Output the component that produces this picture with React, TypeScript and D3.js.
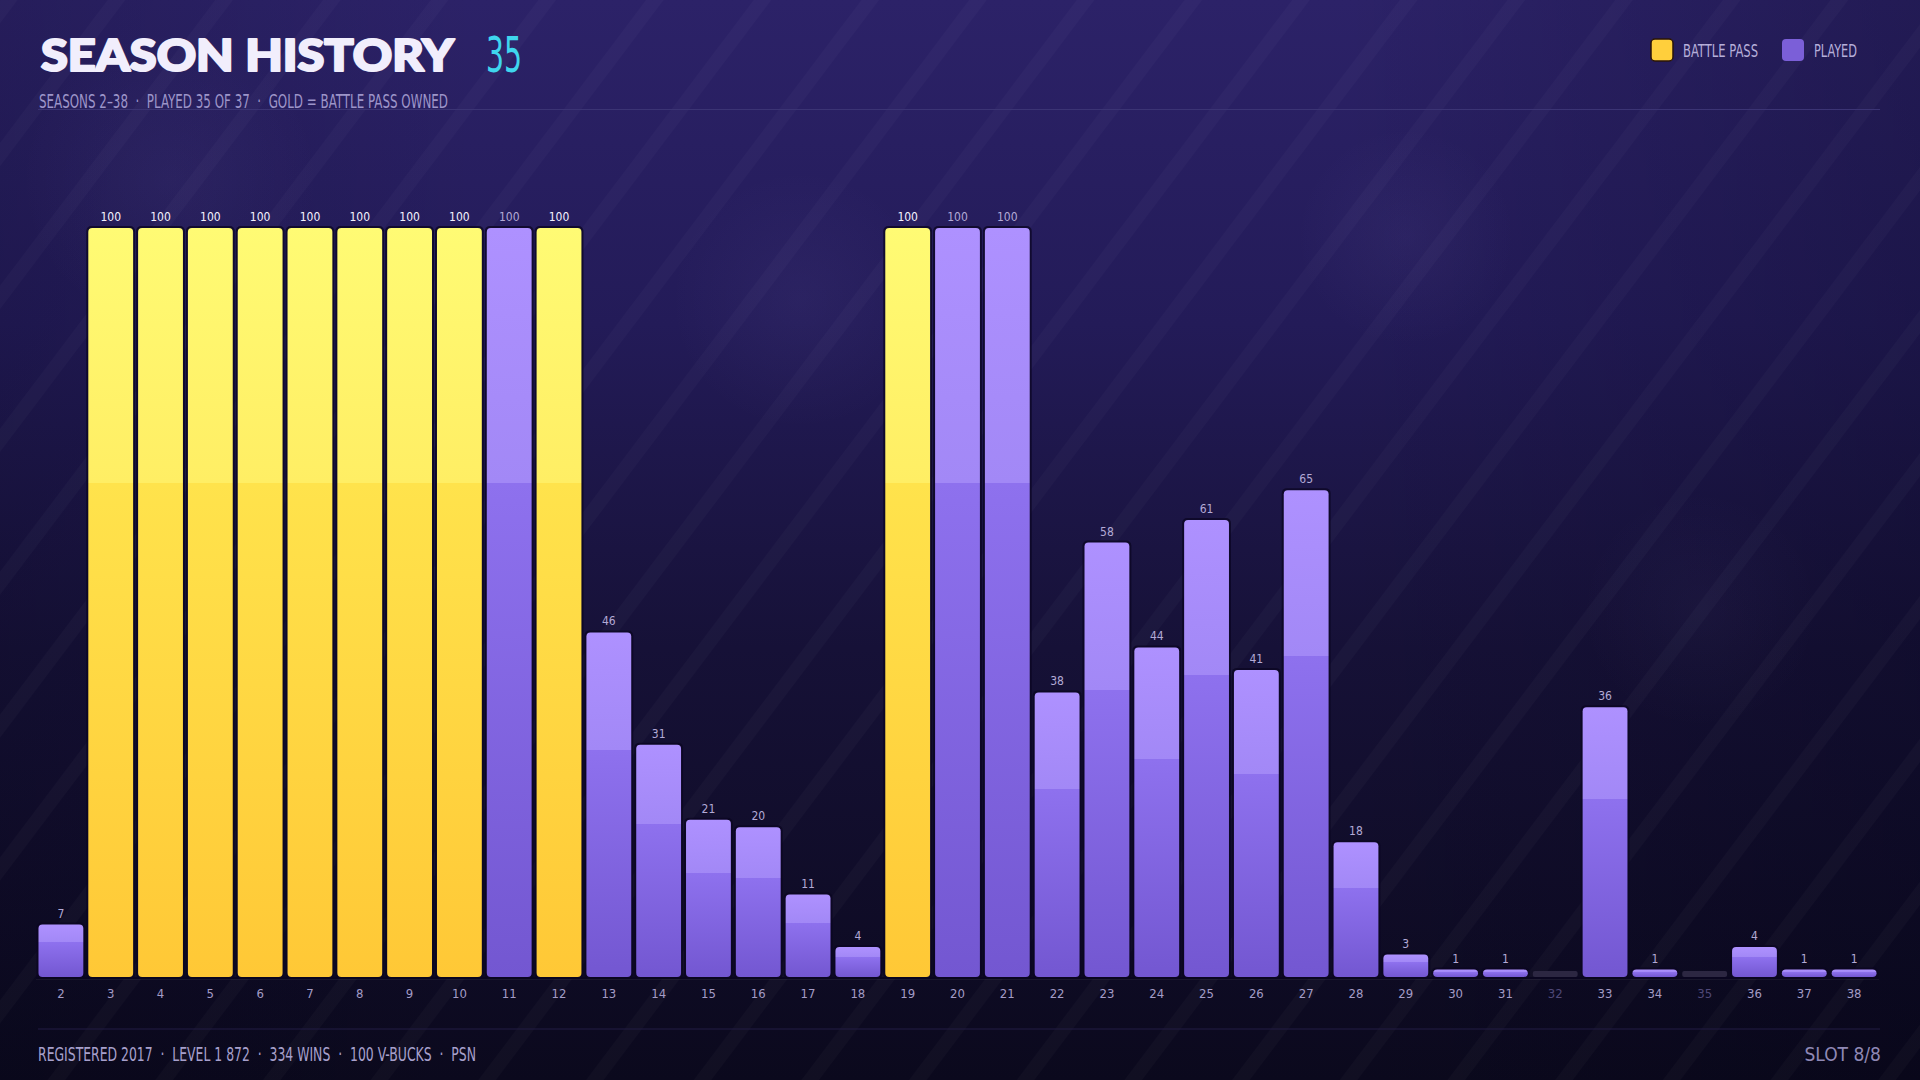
import React, { useEffect } from "react";
import * as d3 from "d3";

// ---- data ----
const seasons: number[] = [2, 3, 4, 5, 6, 7, 8, 9, 10, 11, 12, 13, 14, 15, 16, 17, 18, 19, 20, 21, 22, 23, 24, 25, 26, 27, 28, 29, 30, 31, 32, 33, 34, 35, 36, 37, 38];
const progress: number[] = [7, 100, 100, 100, 100, 100, 100, 100, 100, 100, 100, 46, 31, 21, 20, 11, 4, 100, 100, 100, 38, 58, 44, 61, 41, 65, 18, 3, 1, 1, 0, 36, 1, 0, 4, 1, 1];
const battlePassSeasons: number[] = [3, 4, 5, 6, 7, 8, 9, 10, 12, 19];
const unplayedSeasons: number[] = [32, 35];
const legendItems: string[] = ["BATTLE PASS", "PLAYED"];
const titleText = "SEASON HISTORY";
const titleCount = "35";
const subtitleText = "SEASONS 2–38  ·  PLAYED 35 OF 37  ·  GOLD = BATTLE PASS OWNED";
const footerText = "REGISTERED 2017  ·  LEVEL 1 872  ·  334 WINS  ·  100 V-BUCKS  ·  PSN";
const slotText = "SLOT 8/8";

const W = 1920;
const H = 1080;
const COND = "'Liberation Sans Narrow', 'DejaVu Sans Condensed', 'Roboto', sans-serif";

export default function App() {
  useEffect(() => {
    document.body.style.margin = "0";
    document.body.style.overflow = "hidden";
    document.body.style.background = "#0c0a1f";
  }, []);

  const x = d3
    .scaleBand<number>()
    .domain(seasons)
    .range([36, 1879])
    .paddingInner(0.1)
    .paddingOuter(0.05);
  const y = d3.scaleLinear().domain([0, 100]).range([977, 228]);
  const bw = x.bandwidth();

  const glows = [
    { cx: 170, cy: 180, r: 150, o: 0.05 },
    { cx: 800, cy: 300, r: 130, o: 0.05 },
    { cx: 1406, cy: 237, r: 110, o: 0.05 },
    { cx: 1700, cy: 610, r: 120, o: 0.035 },
  ];

  return (
    <svg width={W} height={H} viewBox={`0 0 ${W} ${H}`} style={{ display: "block" }}>
      <defs>
        <linearGradient id="bg" x1="0" y1="0" x2="0" y2="1">
          <stop offset="0" stopColor="#2c2268" />
          <stop offset="0.3" stopColor="#231b58" />
          <stop offset="0.6" stopColor="#161137" />
          <stop offset="1" stopColor="#0b091d" />
        </linearGradient>
        <linearGradient id="bgSide" x1="0" y1="0" x2="1" y2="0">
          <stop offset="0" stopColor="#000010" stopOpacity="0.15" />
          <stop offset="0.25" stopColor="#000010" stopOpacity="0" />
          <stop offset="0.7" stopColor="#000010" stopOpacity="0" />
          <stop offset="1" stopColor="#000010" stopOpacity="0.22" />
        </linearGradient>
        <pattern id="stripes" width="86" height="86" patternUnits="userSpaceOnUse" patternTransform="rotate(37)">
          <rect x="0" y="0" width="14" height="86" fill="#ffffff" opacity="0.025" />
        </pattern>
        <radialGradient id="glow">
          <stop offset="0" stopColor="#b9a8ff" stopOpacity="1" />
          <stop offset="1" stopColor="#b9a8ff" stopOpacity="0" />
        </radialGradient>
        <linearGradient id="gold" x1="0" y1="0" x2="0" y2="1">
          <stop offset="0" stopColor="#fffb74" />
          <stop offset="0.34" stopColor="#ffee64" />
          <stop offset="0.34" stopColor="#ffe34c" />
          <stop offset="1" stopColor="#ffc836" />
        </linearGradient>
        <linearGradient id="purple" x1="0" y1="0" x2="0" y2="1">
          <stop offset="0" stopColor="#ae91ff" />
          <stop offset="0.34" stopColor="#a288f6" />
          <stop offset="0.34" stopColor="#8e71ee" />
          <stop offset="1" stopColor="#7357d1" />
        </linearGradient>
      </defs>

      {/* background */}
      <rect x={0} y={0} width={W} height={H} fill="url(#bg)" />
      <rect x={0} y={0} width={W} height={H} fill="url(#bgSide)" />
      {glows.map((g, i) => (
        <circle key={i} cx={g.cx} cy={g.cy} r={g.r} fill="url(#glow)" opacity={g.o} />
      ))}
      <rect x={0} y={0} width={W} height={H} fill="url(#stripes)" />

      {/* header */}
      <text
        x={41}
        y={71}
        fontFamily="Lato, 'Open Sans', sans-serif"
        fontWeight={900}
        fontSize={44}
        fill="#f1eefc"
        stroke="#f1eefc"
        strokeWidth={2.2}
        strokeLinejoin="round"
        textLength={413}
        lengthAdjust="spacingAndGlyphs"
      >
        {titleText}
      </text>
      <text
        x={486}
        y={72}
        fontFamily={COND}
        fontSize={50}
        fill="#3fd6ee"
        textLength={36}
        lengthAdjust="spacingAndGlyphs"
      >
        {titleCount}
      </text>
      <line x1={38} x2={1880} y1={109.5} y2={109.5} stroke="#3b3474" strokeWidth={1.2} />
      <text
        x={39}
        y={108}
        fontFamily={COND}
        fontSize={19}
        fill="#9d95c9"
        textLength={409}
        lengthAdjust="spacingAndGlyphs"
        style={{ whiteSpace: "pre" }}
      >
        {subtitleText}
      </text>

      {/* legend */}
      {legendItems.map((label, i) => {
        const lx = i === 0 ? 1651 : 1782;
        const tw = i === 0 ? 75 : 43;
        return (
          <g key={label}>
            <rect
              x={lx}
              y={39}
              width={22}
              height={22}
              rx={4}
              fill={i === 0 ? "#ffcf3c" : "#7b5fd8"}
              stroke={i === 0 ? "#2a1508" : "none"}
              strokeWidth={1.5}
            />
            <text
              x={lx + 32}
              y={57}
              fontFamily={COND}
              fontSize={17}
              fill="#b6afda"
              textLength={tw}
              lengthAdjust="spacingAndGlyphs"
            >
              {label}
            </text>
          </g>
        );
      })}

      {/* bars */}
      <g>
        {seasons.map((s, i) => {
          const v = progress[i];
          const bx = x(s) as number;
          const unplayed = unplayedSeasons.includes(s);
          if (unplayed) {
            const top = y(0.8);
            return (
              <rect key={s} x={bx} y={top} width={bw} height={y(0) - top} rx={2} fill="#2c2742" />
            );
          }
          const top = y(v);
          const h = y(0) - top;
          const gold = battlePassSeasons.includes(s);
          return (
            <g key={s}>
              <rect
                x={bx - 2}
                y={top - 2}
                width={bw + 4}
                height={h + 4}
                rx={5}
                fill="#0b0622"
                opacity={0.75}
              />
              <rect x={bx} y={top} width={bw} height={h} rx={4} fill={gold ? "url(#gold)" : "url(#purple)"} />
              <text
                x={bx + bw / 2}
                y={top - 7}
                textAnchor="middle"
                fontFamily={COND}
                fontSize={12}
                fill={gold ? "#f4f2ff" : "#b3aad6"}
              >
                {v}
              </text>
            </g>
          );
        })}
      </g>

      {/* baseline */}
      <line x1={36} x2={1879} y1={978} y2={978} stroke="#0a0620" strokeWidth={2} />
      <line x1={36} x2={1879} y1={979.5} y2={979.5} stroke="#ffffff" strokeOpacity={0.05} strokeWidth={1} />

      {/* x tick labels */}
      {seasons.map((s) => (
        <text
          key={s}
          x={(x(s) as number) + bw / 2}
          y={998}
          textAnchor="middle"
          fontFamily={COND}
          fontSize={13}
          fill={unplayedSeasons.includes(s) ? "#4f4878" : "#a39cc6"}
        >
          {s}
        </text>
      ))}

      {/* footer */}
      <line x1={38} x2={1880} y1={1029} y2={1029} stroke="#221d44" strokeWidth={1.2} />
      <text
        x={38}
        y={1061}
        fontFamily={COND}
        fontSize={19}
        fill="#a7a0cc"
        textLength={438}
        lengthAdjust="spacingAndGlyphs"
        style={{ whiteSpace: "pre" }}
      >
        {footerText}
      </text>
      <text
        x={1881}
        y={1061}
        textAnchor="end"
        fontFamily={COND}
        fontSize={19}
        fill="#8f88b5"
      >
        {slotText}
      </text>
    </svg>
  );
}
